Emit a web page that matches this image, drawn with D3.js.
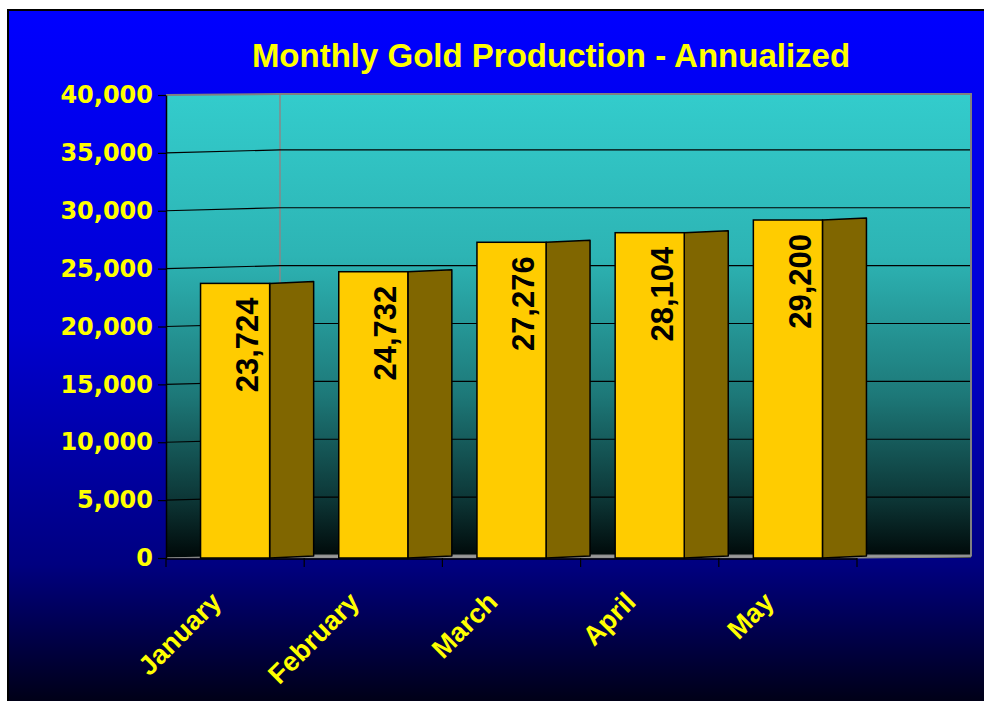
<!DOCTYPE html>
<html>
<head>
<meta charset="utf-8">
<script src="https://cdn.jsdelivr.net/npm/d3@7"></script>
<style>
  html, body { margin: 0; padding: 0; background: #ffffff; }
  svg { display: block; }
</style>
</head>
<body>
<svg id="chart"></svg>
<script>
// values
const months = ["January", "February", "March", "April", "May"];
const production = [23724, 24732, 27276, 28104, 29200];
const yTickValues = [0, 5000, 10000, 15000, 20000, 25000, 30000, 35000, 40000];
const title = "Monthly Gold Production - Annualized";

let width = 984;
let height = 701;

// plot box (front plane) and the 3d depth
let plotLeft = 166, plotRight = 857, plotTop = 95, plotBottom = 558;
let backRight = 971;
let depthX = 44, depthY = -2;
let wallX = 280, wallRise = 3;

let svg = d3.select('#chart')
    .attr('width', width)
    .attr('height', height);

let defs = svg.append('defs');

let bgGrad = defs.append('linearGradient')
    .attr('id', 'bgGrad')
    .attr('x1', 0).attr('y1', 0).attr('x2', 0).attr('y2', 1);
bgGrad.append('stop').attr('offset', '0%').attr('stop-color', '#0000ff');
bgGrad.append('stop').attr('offset', '45%').attr('stop-color', '#0000d0');
bgGrad.append('stop').attr('offset', '78%').attr('stop-color', '#000080');
bgGrad.append('stop').attr('offset', '100%').attr('stop-color', '#000008');

let plotGrad = defs.append('linearGradient')
    .attr('id', 'plotGrad')
    .attr('x1', 0).attr('y1', 0).attr('x2', 0).attr('y2', 1);
plotGrad.append('stop').attr('offset', '0%').attr('stop-color', '#33cccc');
plotGrad.append('stop').attr('offset', '35%').attr('stop-color', '#2db4b4');
plotGrad.append('stop').attr('offset', '65%').attr('stop-color', '#1d7878');
plotGrad.append('stop').attr('offset', '88%').attr('stop-color', '#0c3434');
plotGrad.append('stop').attr('offset', '100%').attr('stop-color', '#000808');

// outer frame
svg.append('rect')
    .attr('x', 8)
    .attr('y', 10)
    .attr('width', width + 10)
    .attr('height', height + 10)
    .style('fill', 'url(#bgGrad)')
    .style('stroke', '#000000')
    .style('stroke-width', '2px');

let x = d3.scaleBand()
    .domain(months)
    .range([plotLeft, plotRight])
    .paddingInner(0.5)
    .paddingOuter(0.25);

let y = d3.scaleLinear()
    .domain([0, 40000])
    .range([plotBottom, plotTop]);

// plot area (walls)
svg.append('rect')
    .attr('x', plotLeft)
    .attr('y', plotTop - 1)
    .attr('width', backRight - plotLeft)
    .attr('height', plotBottom - plotTop + 1)
    .style('fill', 'url(#plotGrad)');

// wall edge
svg.append('line')
    .attr('x1', wallX).attr('x2', wallX)
    .attr('y1', plotTop - 1).attr('y2', plotBottom)
    .style('stroke', '#888888')
    .style('stroke-width', '1.5px');

// gridlines, bent at the side wall
let gridLine = d => `M${plotLeft},${y(d)}L${wallX},${y(d) - wallRise}L${backRight},${y(d) - wallRise}`;

svg.selectAll('path.grid')
    .data(yTickValues.filter(d => d > 0 && d < 40000))
  .enter().append('path')
    .attr('class', 'grid')
    .attr('d', gridLine)
    .style('fill', 'none')
    .style('stroke', '#000000')
    .style('stroke-width', '1.2px');

// top and right border of the plot
svg.append('path')
    .attr('d', `M${plotLeft},${plotTop}L${wallX},${plotTop - 1}L${backRight},${plotTop - 1}L${backRight},${plotBottom - 2}`)
    .style('fill', 'none')
    .style('stroke', '#808080')
    .style('stroke-width', '2px');

// floor
svg.append('path')
    .attr('d', `M${plotLeft},${plotBottom}L${wallX},${plotBottom - 3}L${backRight},${plotBottom - 3}L${backRight},${plotBottom - 1}L${plotRight},${plotBottom}Z`)
    .style('fill', '#999999')
    .style('stroke', '#888888')
    .style('stroke-width', '1px');

// bars: side face then front face
let bars = svg.selectAll('g.bar')
    .data(months.map((m, i) => ({ month: m, value: production[i] })))
  .enter().append('g')
    .attr('class', 'bar');

bars.append('path')
    .attr('d', d => {
      let x0 = x(d.month) + x.bandwidth();
      let y0 = y(d.value);
      return `M${x0},${y0}L${x0 + depthX},${y0 + depthY}L${x0 + depthX},${plotBottom + depthY}L${x0},${plotBottom}Z`;
    })
    .style('fill', '#806600')
    .style('stroke', '#000000')
    .style('stroke-width', '1.5px')
    .style('stroke-linejoin', 'round');

bars.append('rect')
    .attr('x', d => x(d.month))
    .attr('y', d => y(d.value))
    .attr('width', x.bandwidth())
    .attr('height', d => plotBottom - y(d.value))
    .style('fill', '#ffcc00')
    .style('stroke', '#000000')
    .style('stroke-width', '1.5px');

bars.append('text')
    .attr('transform', d => `translate(${x(d.month) + x.bandwidth() / 2 + 12},${y(d.value) + 14}) rotate(-90)`)
    .attr('text-anchor', 'end')
    .attr('dy', '0.35em')
    .style('font-family', '"Liberation Sans", Arial, sans-serif')
    .style('font-weight', 'bold')
    .style('font-size', '31px')
    .style('fill', '#000000')
    .text(d => d3.format(',')(d.value));

// y axis
let yAxis = d3.axisLeft(y)
    .tickValues(yTickValues)
    .tickSize(8)
    .tickSizeOuter(0)
    .tickPadding(5)
    .tickFormat(d3.format(','));

let yg = svg.append('g')
    .attr('transform', `translate(${plotLeft},0)`)
    .call(yAxis);

yg.select('.domain').style('stroke', '#000000').style('stroke-width', '1.5px');
yg.selectAll('.tick line').style('stroke', '#000000').style('stroke-width', '1.2px');
yg.selectAll('.tick text')
    .style('font-family', '"DejaVu Sans", Verdana, sans-serif')
    .style('font-weight', 'bold')
    .style('font-size', '24px')
    .style('fill', '#ffff00');

// x axis line and category boundary ticks
svg.append('line')
    .attr('x1', plotLeft).attr('x2', plotRight)
    .attr('y1', plotBottom + 1).attr('y2', plotBottom + 1)
    .style('stroke', '#000000')
    .style('stroke-width', '1.5px');

let bounds = months.map(m => x(m) - x.step() * 0.25).concat([plotRight]);

svg.selectAll('line.xtick')
    .data(bounds)
  .enter().append('line')
    .attr('class', 'xtick')
    .attr('x1', d => d).attr('x2', d => d)
    .attr('y1', plotBottom).attr('y2', plotBottom + 9)
    .style('stroke', '#000000')
    .style('stroke-width', '1.2px');

svg.selectAll('text.xlabel')
    .data(months)
  .enter().append('text')
    .attr('class', 'xlabel')
    .attr('transform', d => `translate(${x(d) + x.bandwidth() / 2 - 19},${plotBottom + 39}) rotate(-45)`)
    .attr('text-anchor', 'end')
    .attr('dy', '0.35em')
    .style('font-family', '"Liberation Sans", Arial, sans-serif')
    .style('font-weight', 'bold')
    .style('font-size', '27px')
    .style('fill', '#ffff00')
    .text(d => d);

// title
svg.append('text')
    .attr('x', 551)
    .attr('y', 67)
    .attr('text-anchor', 'middle')
    .style('font-family', '"Liberation Sans", Arial, sans-serif')
    .style('font-weight', 'bold')
    .style('font-size', '33px')
    .style('fill', '#ffff00')
    .text(title);
</script>
</body>
</html>
